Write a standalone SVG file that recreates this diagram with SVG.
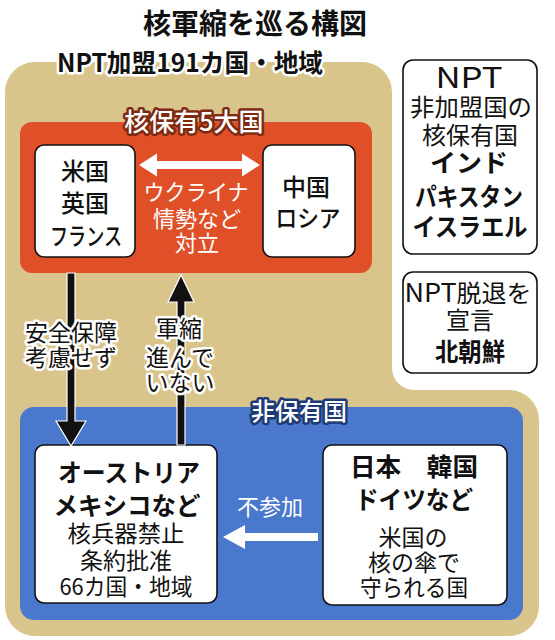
<svg xmlns="http://www.w3.org/2000/svg" width="555" height="640" viewBox="0 0 555 640">
<style>
text{font-family:"Noto Sans CJK JP","Noto Sans",sans-serif;text-anchor:middle}
.t{fill:#111}
.b{font-weight:700}
.m{font-weight:500}
.w{fill:#fff}
.wo{fill:#111;stroke:#fff;stroke-width:5;paint-order:stroke;stroke-linejoin:round}
.box{fill:#fff;stroke:#111;stroke-width:1.6}
</style>
<rect width="555" height="640" fill="#fff"/>
<text x="255" y="34" class="t b" font-size="28">核軍縮を巡る構図</text>

<g id="npt-members">
<path d="M35,62 H362 A30,30 0 0 1 392,92 V368 A22,22 0 0 0 414,390 H509 A30,30 0 0 1 539,420 V606 A30,30 0 0 1 509,636 H35 A30,30 0 0 1 5,606 V92 A30,30 0 0 1 35,62 Z" fill="#d9c58c"/>
<text x="190" y="72" class="wo b" font-size="25" textLength="266" lengthAdjust="spacingAndGlyphs">NPT加盟191カ国・地域</text>
</g>

<g id="nuclear5">
<rect x="20" y="122" width="352" height="151" rx="12" fill="#e05028"/>
<text x="194" y="131" font-size="25" class="m" fill="#fff" stroke="#7e2a12" stroke-width="5" paint-order="stroke" stroke-linejoin="round">核保有5大国</text>
</g>

<g id="us-uk-fr">
<rect x="35" y="145" width="100" height="112" rx="9" class="box"/>
<text x="85" y="180" class="t m" font-size="24">米国</text>
<text x="85" y="212" class="t m" font-size="24">英国</text>
<text x="86" y="245" class="t m" font-size="24" textLength="72" lengthAdjust="spacingAndGlyphs">フランス</text>
</g>

<g id="cn-ru">
<rect x="263" y="145" width="92" height="112" rx="9" class="box"/>
<text x="306" y="196" class="t m" font-size="24">中国</text>
<text x="308" y="227" class="t m" font-size="24" textLength="65" lengthAdjust="spacingAndGlyphs">ロシア</text>
</g>

<g id="npt-nonmembers">
<rect x="403" y="60" width="134" height="194" rx="10" class="box"/>
<text x="469" y="88" class="t" font-size="29" textLength="67" lengthAdjust="spacingAndGlyphs">NPT</text>
<text x="471" y="116" class="t" font-size="24" textLength="122" lengthAdjust="spacingAndGlyphs">非加盟国の</text>
<text x="470" y="144" class="t" font-size="24">核保有国</text>
<text x="469" y="172" class="t b" font-size="25" textLength="78" lengthAdjust="spacingAndGlyphs">インド</text>
<text x="469" y="206" class="t b" font-size="25" textLength="108" lengthAdjust="spacingAndGlyphs">パキスタン</text>
<text x="470" y="236" class="t b" font-size="25" textLength="115" lengthAdjust="spacingAndGlyphs">イスラエル</text>
</g>

<g id="north-korea">
<rect x="403" y="272" width="134" height="101" rx="10" class="box"/>
<text x="468" y="302" class="t" font-size="24" textLength="127" lengthAdjust="spacingAndGlyphs"><tspan font-size="26">NPT</tspan>脱退を</text>
<text x="470" y="329" class="t" font-size="24">宣言</text>
<text x="470" y="361" class="t b" font-size="25" textLength="70" lengthAdjust="spacingAndGlyphs">北朝鮮</text>
</g>

<g id="non-nuclear">
<rect x="20" y="407" width="503" height="213" rx="14" fill="#4a78cd"/>
<text x="299" y="420" font-size="24" class="m" fill="#fff" stroke="#1d3a75" stroke-width="5" paint-order="stroke" stroke-linejoin="round">非保有国</text>
</g>

<g id="austria-mexico">
<rect x="35" y="445" width="182" height="158" rx="9" class="box"/>
<text x="129" y="482" class="t b" font-size="25" textLength="142" lengthAdjust="spacingAndGlyphs">オーストリア</text>
<text x="127" y="515" class="t b" font-size="25" textLength="147" lengthAdjust="spacingAndGlyphs">メキシコなど</text>
<text x="126" y="542" class="t" font-size="23" textLength="117" lengthAdjust="spacingAndGlyphs">核兵器禁止</text>
<text x="126" y="569" class="t" font-size="23">条約批准</text>
<text x="126" y="595" class="t" font-size="23" textLength="133" lengthAdjust="spacingAndGlyphs">66カ国・地域</text>
</g>

<g id="japan-korea-germany">
<rect x="323" y="445" width="184" height="160" rx="9" class="box"/>
<text x="414" y="476" class="t b" font-size="25" textLength="128" lengthAdjust="spacingAndGlyphs">日本　韓国</text>
<text x="414" y="509" class="t b" font-size="25" textLength="118" lengthAdjust="spacingAndGlyphs">ドイツなど</text>
<text x="413" y="546" class="t" font-size="23">米国の</text>
<text x="414" y="571" class="t" font-size="23">核の傘で</text>
<text x="414" y="596" class="t" font-size="23" textLength="108" lengthAdjust="spacingAndGlyphs">守られる国</text>
</g>

<g id="connectors">
<polygon points="139,165 157,153.5 157,161 242,161 242,153.5 260,165 242,176.5 242,169 157,169 157,176.5" fill="#fff"/>
<text x="196" y="200" class="w" font-size="22" textLength="105" lengthAdjust="spacingAndGlyphs">ウクライナ</text>
<text x="197" y="227" class="w" font-size="22">情勢など</text>
<text x="197" y="251" class="w" font-size="22">対立</text>

<polygon points="67,273 75,273 75,421 86,421 71,446 56,421 67,421" fill="#111" stroke="#fff" stroke-width="1.2"/>
<polygon points="177,445 185,445 185,302 194,302 181,275 168,302 177,302" fill="#111" stroke="#fff" stroke-width="1.2"/>
<text x="71" y="341" class="wo" font-size="23">安全保障</text>
<text x="71" y="366" class="wo" font-size="23">考慮せず</text>
<text x="179" y="337" class="wo" font-size="23">軍縮</text>
<text x="180" y="366" class="wo" font-size="23">進んで</text>
<text x="180" y="391" class="wo" font-size="23">いない</text>

<polygon points="223,537 245,525 245,533 318,533 318,541 245,541 245,549" fill="#fff"/>
<text x="270" y="515" class="w" font-size="22">不参加</text>
</g>
</svg>
